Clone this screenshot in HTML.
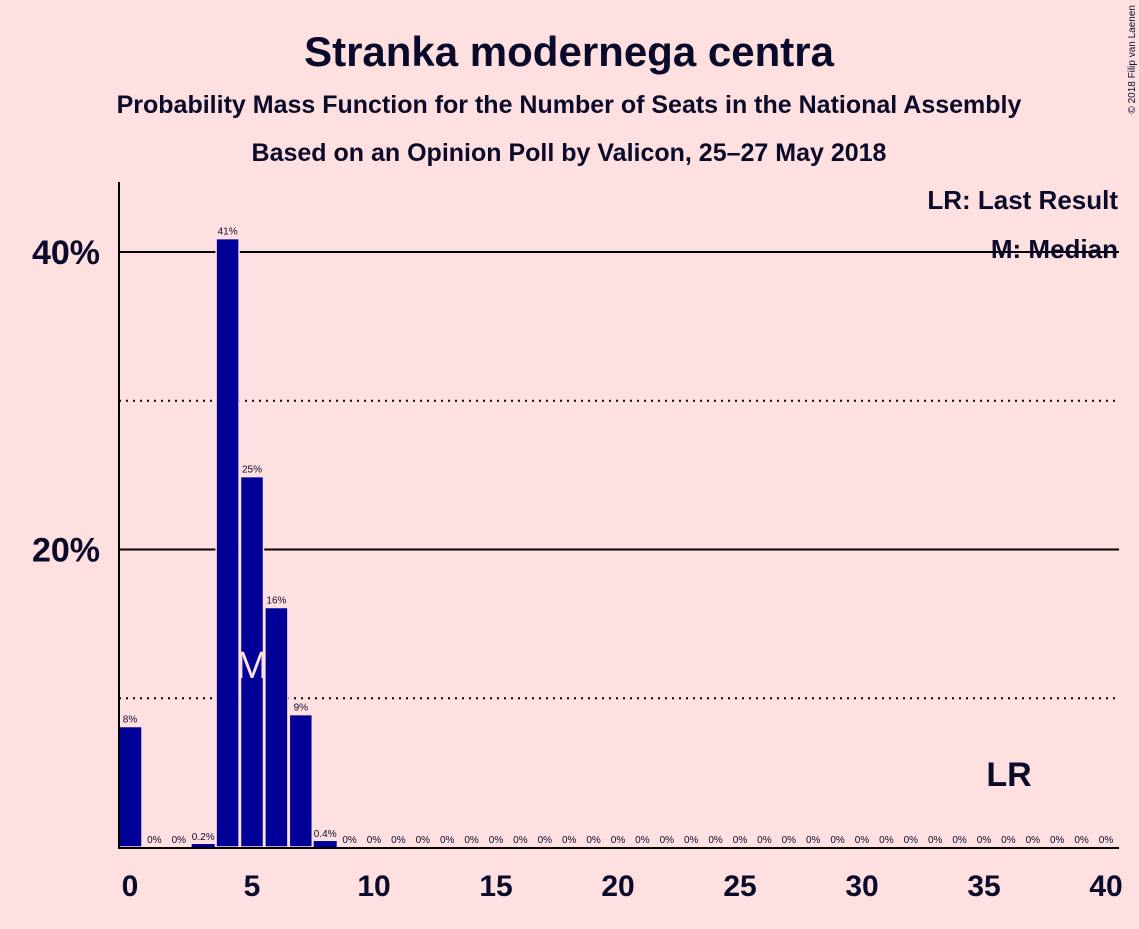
<!DOCTYPE html>
<html><head><meta charset="utf-8"><style>
body{margin:0;background:#ffe0e0;}
svg text{font-family:"Liberation Sans",sans-serif;fill:#0a0a2a;}
</style></head><body>
<svg width="1139" height="924">
<rect width="1139" height="924" fill="#ffe0e0"/>
<text x="569" y="66" text-anchor="middle" font-size="42" font-weight="bold">Stranka modernega centra</text>
<text x="569" y="113" text-anchor="middle" font-size="25" font-weight="bold">Probability Mass Function for the Number of Seats in the National Assembly</text>
<text x="569" y="161" text-anchor="middle" font-size="25" font-weight="bold">Based on an Opinion Poll by Valicon, 25–27 May 2018</text>
<text x="1135" y="5" font-size="10" transform="rotate(-90 1135 5)" text-anchor="end">© 2018 Filip van Laenen</text>
<g id="grid"></g>
<g id="bars"></g>
<g id="labels"></g>
<line x1="119" y1="182" x2="119" y2="848" stroke="#000" stroke-width="2"/>
<line x1="118" y1="848" x2="1119" y2="848" stroke="#000" stroke-width="2"/>
<g id="xticks"></g>
<text x="1118" y="209" text-anchor="end" font-size="26" font-weight="bold">LR: Last Result</text>
<text x="1118" y="258" text-anchor="end" font-size="26" font-weight="bold">M: Median</text>
<text x="1009" y="786" text-anchor="middle" font-size="34" font-weight="bold">LR</text>
</svg>
<script>
const seats=[];for(let i=0;i<=40;i++)seats.push(i);
const probs=[8.1,0,0,0.2,40.9,24.9,16.1,8.9,0.4,0,0,0,0,0,0,0,0,0,0,0,0,0,0,0,0,0,0,0,0,0,0,0,0,0,0,0,0,0,0,0,0];
const probLabels=["8%","0%","0%","0.2%","41%","25%","16%","9%","0.4%"];
const yTicks=[10,20,30,40];
const xTicks=[0,5,10,15,20,25,30,35,40];
const medianSeat=5;
const NS="http://www.w3.org/2000/svg";
const X=s=>130+s*24.4, Y=p=>847-p*14.875;
function mk(t,a){const e=document.createElementNS(NS,t);for(const k in a)e.setAttribute(k,a[k]);return e;}
const grid=document.getElementById('grid'),bars=document.getElementById('bars'),labels=document.getElementById('labels'),xt=document.getElementById('xticks');
yTicks.forEach(v=>{
 const solid=v%20===0;
 const l=mk('line',{x1:119,x2:1119,y1:Y(v),y2:Y(v),stroke:'#000','stroke-width':2,'stroke-dasharray':solid?'':'2,5'});
 
 
 grid.appendChild(l);
 if(solid){const t=mk('text',{x:100,y:Y(v)+12,'text-anchor':'end','font-size':34,'font-weight':'bold'});t.textContent=v+'%';
 
 
 grid.appendChild(t);}
});
seats.forEach((s,i)=>{
 const p=probs[i],h=p*14.875;
 let x0=X(s)-11.5,w=23;if(s===0){x0=119;w=23;}
 if(p>0){
 const b=mk('rect',{x:x0,y:Y(p),width:w,height:h,fill:'#000099',stroke:'#ffe0e0','stroke-width':p>1?1.5:0});
 
 
 bars.appendChild(b);}
 const t=mk('text',{x:X(s),y:Y(p)-4,'text-anchor':'middle','font-size':10});
 t.textContent=i<probLabels.length?probLabels[i]:'0%';
 
 
 labels.appendChild(t);
 if(s===medianSeat){const m=mk('text',{x:X(s),y:678,'text-anchor':'middle','font-size':38,style:'fill:#ffe0e0'});m.textContent='M';
 
 
 labels.appendChild(m);}
});
xTicks.forEach(v=>{const t=mk('text',{x:X(v),y:896,'text-anchor':'middle','font-size':30,'font-weight':'bold'});t.textContent=v;
 
 
 xt.appendChild(t);});
</script>
</body></html>
